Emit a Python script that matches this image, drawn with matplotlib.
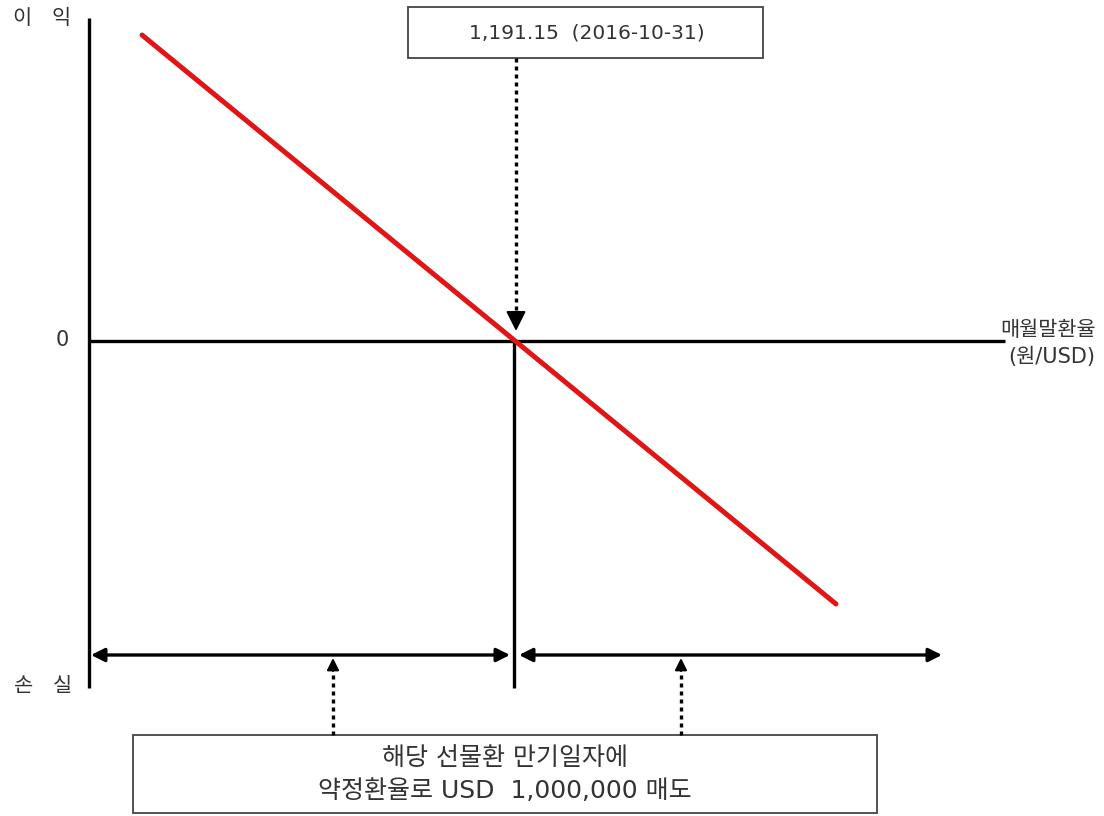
import matplotlib.pyplot as plt

plt.rcParams['font.family'] = ['DejaVu Sans', 'Noto Sans CJK KR']

# 도식용 좌표 (원점 = 약정환율 1,191.15 / 손익 0)
strike_label = "1,191.15  (2016-10-31)"
rate_pts = [-372, 322]      # 환율 (약정환율 대비, 도식 단위)
pnl_pts = [306, -263]       # 손익 (도식 단위)
y_labels = ["이   익", "0", "손   실"]
y_label_x = [-472, -452, -471]
y_label_y = [323, 1, -345]
x_label_1 = "매월말환율"
x_label_2 = "(원/USD)"
box_lines = ["해당 선물환 만기일자에", "약정환율로 USD  1,000,000 매도"]

# 축 범위 (도식 단위)
x_min, x_max = -425, 491
y_min, y_max = -347, 323

txt = '#333333'

fig = plt.figure(figsize=(11.04, 8.16), dpi=100)
ax = fig.add_axes([0, 0, 1, 1])
ax.set_xlim(-514, 590)
ax.set_ylim(-475, 341)
ax.axis('off')

# 축
ax.plot([x_min, x_min], [y_min, y_max], color='black', lw=2.4, solid_capstyle='butt')
ax.plot([x_min, x_max], [0, 0], color='black', lw=2.4, solid_capstyle='butt')
ax.plot([0, 0], [0, y_min], color='black', lw=2.4, solid_capstyle='butt')

# 손익선
ax.plot(rate_pts, pnl_pts, color='#e01515', lw=3.6, solid_capstyle='round', zorder=3)

# 축 라벨
for lab, xx, yy in zip(y_labels, y_label_x, y_label_y):
    ax.text(xx, yy, lab, ha='center', va='center', fontsize=15, color=txt)
ax.text(534, 11, x_label_1, ha='center', va='center', fontsize=15, color=txt)
ax.text(538, -16, x_label_2, ha='center', va='center', fontsize=15, color=txt)

# 상단 박스 + 점선 화살표
ax.add_patch(plt.Rectangle((-106, 283), 355, 51, fc='white', ec='#444444', lw=1.3))
ax.text(73, 308, strike_label, ha='center', va='center', fontsize=14.5, color=txt)
ax.plot([2, 2], [283, 24], color='black', lw=2.4, linestyle=(0, (1.2, 1.2)))
ax.annotate('', xy=(2, 10), xytext=(2, 26),
            arrowprops=dict(arrowstyle='-|>', mutation_scale=30, color='black', lw=1.5,
                            shrinkA=0, shrinkB=0))

# 하단 양방향 화살표
arrow_y = -314
ax.annotate('', xy=(x_min + 2, arrow_y), xytext=(-4, arrow_y),
            arrowprops=dict(arrowstyle='<|-|>', mutation_scale=20, color='black', lw=2.4,
                            shrinkA=0, shrinkB=0))
ax.annotate('', xy=(5, arrow_y), xytext=(428, arrow_y),
            arrowprops=dict(arrowstyle='<|-|>', mutation_scale=20, color='black', lw=2.4,
                            shrinkA=0, shrinkB=0))

# 하단 점선 화살표
for xx in [-181, 167]:
    ax.plot([xx, xx], [-394, -330], color='black', lw=2.4, linestyle=(0, (1.2, 1.2)))
    ax.annotate('', xy=(xx, -317), xytext=(xx, -330),
                arrowprops=dict(arrowstyle='-|>', mutation_scale=18, color='black', lw=1.5,
                                shrinkA=0, shrinkB=0))

# 하단 박스
ax.add_patch(plt.Rectangle((-381, -472), 744, 78, fc='white', ec='#444444', lw=1.3))
ax.text(-9, -417, box_lines[0], ha='center', va='center', fontsize=18, color=txt)
ax.text(-9, -450, box_lines[1], ha='center', va='center', fontsize=18, color=txt)

fig.savefig('out.png', dpi=100)
